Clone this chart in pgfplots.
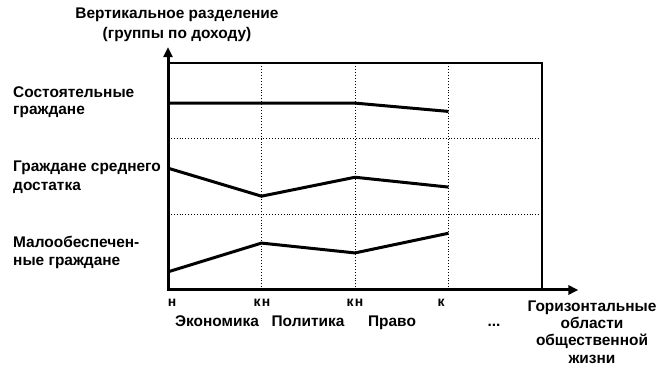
\documentclass[border=0pt]{standalone}
\usepackage{pgfplots}
\pgfplotsset{compat=1.18}
\usepackage{fontspec}
\setmainfont{Liberation Sans}
\usetikzlibrary{arrows.meta}
\begin{document}
\begin{tikzpicture}
\useasboundingbox (0bp,0bp) rectangle (661bp,367bp);
\begin{axis}[at={(168bp,77bp)}, anchor=south west, scale only axis,
  width=374bp, height=227bp,
  xmin=0, xmax=4, ymin=0, ymax=3,
  xtick={1,2,3}, ytick={1,2}, xticklabels={}, yticklabels={},
  major tick length=0pt,
  grid=major, grid style={black, line width=0.9bp, dotted},
  axis line style={line width=1.6bp},
  clip=false]
\addplot[black, line width=3bp, line join=round, no marks] coordinates {(0,2.47) (1,2.47) (2,2.47) (3,2.36)};
\addplot[black, line width=3bp, line join=round, no marks] coordinates {(0,1.61) (1,1.24) (2,1.49) (3,1.36)};
\addplot[black, line width=3bp, line join=round, no marks] coordinates {(0,0.24) (1,0.62) (2,0.49) (3,0.75)};
\draw[line width=3bp, -{Triangle[length=10bp,width=9bp]}] (axis cs:0,0) -- (axis cs:4.39,0);
\draw[line width=3bp, -{Triangle[length=10bp,width=9bp]}] (axis cs:0,0) -- (axis cs:0,3.21);
\end{axis}
\begin{scope}[every node/.style={font=\bfseries\fontsize{15.5}{18}\selectfont, inner sep=0pt}]
\node at (177bp,352bp) {Вертикальное разделение};
\node at (177bp,332bp) {(группы по доходу)};
\node[anchor=west] at (13bp,275bp) {Состоятельные};
\node[anchor=west] at (13bp,255bp) {граждане};
\node[anchor=west] at (13bp,199bp) {Граждане среднего};
\node[anchor=west] at (13bp,179bp) {достатка};
\node[anchor=west] at (13bp,125bp) {Малообеспечен-};
\node[anchor=west] at (13bp,104bp) {ные граждане};
\node[anchor=base] at (217bp,40bp) {Экономика};
\node[anchor=base] at (308bp,40bp) {Политика};
\node[anchor=base] at (392bp,40bp) {Право};
\node[anchor=base] at (494bp,40bp) {...};
\node[align=center, font=\bfseries\fontsize{15.5}{17.5}\selectfont] at (592bp,35bp) {Горизонтальные\\области\\общественной\\жизни};
\end{scope}
\begin{scope}[every node/.style={font=\bfseries\fontsize{14}{16}\selectfont, inner sep=0pt}]
\node at (172bp,64bp) {н};
\node at (257bp,64bp) {к};
\node at (266bp,64bp) {н};
\node at (350bp,64bp) {к};
\node at (359bp,64bp) {н};
\node at (441bp,64bp) {к};
\end{scope}
\end{tikzpicture}
\end{document}
